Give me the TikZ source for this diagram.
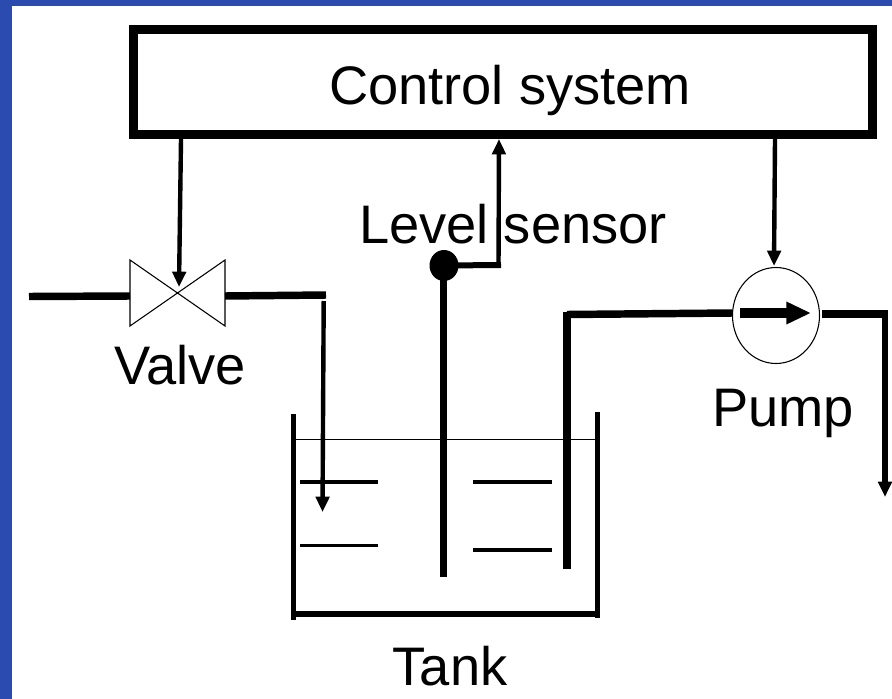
\documentclass[tikz,border=0pt]{standalone}
\usepackage{fontspec}
\setmainfont{Liberation Sans}
\usetikzlibrary{arrows.meta,shapes.geometric}
\definecolor{slideblue}{RGB}{44,75,175}
\tikzset{
 x=0.75pt,y=-0.75pt,
 lbl/.style={inner sep=0pt,font=\fontsize{40.7}{40.7}\selectfont,text=black,anchor=base},
 pipe/.style={line width=5.6pt,line cap=butt},
 hair/.style={line width=0.8pt},
 sig/.style={line width=3.3pt,-{Triangle[length=11.5pt,width=10pt]}},
 water/.style={line width=2.3pt},
 wall/.style={line width=3.9pt},
 stem/.style={line width=5.3pt},
}
\begin{document}
\begin{tikzpicture}
\useasboundingbox (0,0) rectangle (892,699);
\fill[slideblue] (0,0) rectangle (892,699);
\fill[white] (12,6) rectangle (892,699);

% control system
\node[draw=black,line width=6.75pt,inner sep=0pt,minimum width=554.6pt,minimum height=78.75pt] (ctrl) at (503.25,82) {};
\node[lbl] (ctrltext) at (510,104) {Control system};

% named points
\coordinate (vtop) at (181,139);
\coordinate (vtip) at (179,287);
\coordinate (vinlet) at (29,296.5);
\coordinate (vl) at (130,296);
\coordinate (vr) at (225,296);
\coordinate (fillcorner) at (326,295);
\coordinate (fillstart) at (323.7,301);
\coordinate (filltip) at (322.5,512);
\coordinate (ptop) at (775,139);
\coordinate (ptip) at (774,266);
\coordinate (stop) at (499,139);
\coordinate (scorner) at (501,265);
\coordinate (suction) at (567,569);
\coordinate (suctiontop) at (567,312);
\coordinate (suctioncorner) at (567,314.5);
\coordinate (pumpin) at (732.5,313);
\coordinate (pumpout) at (822,314);
\coordinate (outend) at (888,314);
\coordinate (outcorner) at (885,311);
\coordinate (outtip) at (885,497);
\coordinate (pfrom) at (740,313);
\coordinate (pto) at (811,313);

% level sensor
\draw[stem] (443.7,577) -- (443.7,265);
\node[ellipse,fill=black,inner sep=0pt,minimum width=21.75pt,minimum height=23.25pt] (dot) at (444,265.5) {};
\draw[line width=4.5pt] (dot.center) -- (scorner);
\draw[sig] (498.5,267) -- (stop);
\node[lbl] (leveltext) at (513,243) {Level sensor};

% valve
\draw[hair,fill=white] (130,260) -- (225,326) -- (225,260) -- (130,326) -- cycle;
\draw[pipe] (vinlet) -- (vl);
\draw[pipe] (vr) -- (fillcorner);
\draw[sig] (vtop) -- (vtip);
\draw[sig] (fillstart) -- (filltip);
\node[lbl] (valvetext) at (180,384) {Valve};

% tank
\draw[wall] (293.5,414) -- (293.5,620);
\draw[wall] (597.5,412) -- (597.5,618);
\draw[wall] (293.5,614) -- (597.5,614);
\draw[hair] (296,439.3) -- (595,439.3);
\draw[water] (300,482) -- (378,482);
\draw[water] (300,545.7) -- (378,545.7);
\draw[water] (473,482) -- (552,482);
\draw[water] (473,550) -- (552,550);
\node[lbl] (tanktext) at (450,685) {Tank};

% pump and outlet
\node[ellipse,draw=black,hair,fill=white,inner sep=0pt,minimum width=65.25pt,minimum height=72pt] (pump) at (776,315.5) {};
\draw[pipe] (suction) -- (suctiontop);
\draw[pipe] (suctioncorner) -- (pumpin);
\draw[pipe] (pumpout) -- (outend);
\draw[sig,line width=4.3pt] (outcorner) -- (outtip);
\draw[line width=7.5pt,-{Triangle[length=18.5pt,width=15.75pt]}] (pfrom) -- (pto);
\draw[sig] (ptop) -- (ptip);
\node[lbl] (pumptext) at (783,426) {Pump};
\end{tikzpicture}
\end{document}
